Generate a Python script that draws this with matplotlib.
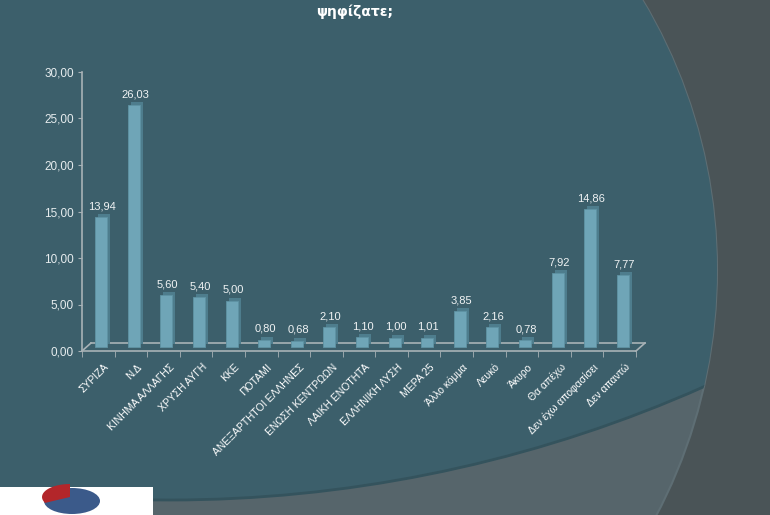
import matplotlib
matplotlib.use("Agg")
import matplotlib.pyplot as plt
import matplotlib.transforms as mtransforms
from matplotlib.patches import Circle, Rectangle, Ellipse, Polygon
import numpy as np

# survey data
categories = ["ΣΥΡΙΖΑ", "Ν.Δ", "ΚΙΝΗΜΑ ΑΛΛΑΓΗΣ", "ΧΡΥΣΗ ΑΥΓΗ", "ΚΚΕ", "ΠΟΤΑΜΙ",
              "ΑΝΕΞΑΡΤΗΤΟΙ ΕΛΛΗΝΕΣ", "ΕΝΩΣΗ ΚΕΝΤΡΩΩΝ", "ΛΑΙΚΗ ΕΝΟΤΗΤΑ",
              "ΕΛΛΗΝΙΚΗ ΛΥΣΗ", "ΜΕΡΑ 25", "Άλλο κόμμα", "Λευκό", "Άκυρο",
              "Θα απέχω", "Δεν έχω αποφασίσει", "Δεν απαντώ"]
values = [13.94, 26.03, 5.60, 5.40, 5.00, 0.80, 0.68, 2.10, 1.10, 1.00, 1.01,
          3.85, 2.16, 0.78, 7.92, 14.86, 7.77]
yticks = [0, 5, 10, 15, 20, 25, 30]
title = "ψηφίζατε;"

W, H = 770, 515
fig = plt.figure(figsize=(W / 100, H / 100), dpi=100, facecolor="#4a5457")

# slide background (pixel coords)
bg = fig.add_axes([0, 0, 1, 1], zorder=-1)
bg.set_xlim(0, W)
bg.set_ylim(H, 0)
bg.axis("off")
outer = Circle((190, 270), 527, facecolor="#56656b", edgecolor="#5e6e74", lw=1.5)
bg.add_patch(outer)
teal = Circle((170, -815), 1315, facecolor="#3c5f6b", edgecolor="#34535d", lw=2)
bg.add_patch(teal)
teal.set_clip_path(outer)

# logo box
bg.add_patch(Rectangle((0, 487), 153, 30, facecolor="white", edgecolor="none"))
bg.add_patch(Ellipse((72, 501), 56, 26, facecolor="#3b5a8a"))
t = np.linspace(np.pi * 0.5, np.pi * 1.15, 20)
red = [(70, 497)] + [(70 + 28 * np.cos(a), 497 - 13 * np.sin(a)) for a in t]
bg.add_patch(Polygon(red, closed=True, facecolor="#b3262a", edgecolor="none"))

fig.text(355 / W, 1 - 12 / H, title, ha="center", va="center", color="white",
         fontsize=10, fontweight="bold",
         family=["Liberation Sans Narrow", "DejaVu Sans Condensed", "DejaVu Sans"])

# chart
x0, x1, yb, yt = 82, 636, 351, 72
ax = fig.add_axes([x0 / W, 1 - yb / H, (x1 - x0) / W, (yb - yt) / H])
ax.set_facecolor("none")
n = len(categories)
ax.set_xlim(0, n)
ax.set_ylim(0, 30)

axis_col = "#a8b2b6"
for s in ["top", "right"]:
    ax.spines[s].set_visible(False)
ax.spines["left"].set_color(axis_col)
ax.spines["bottom"].set_color(axis_col)
ax.spines["left"].set_linewidth(1.2)
ax.spines["bottom"].set_linewidth(1.2)

ax.set_yticks(yticks)
ax.set_yticklabels([f"{v:.2f}".replace(".", ",") for v in yticks],
                   family=["Liberation Sans Narrow", "Liberation Sans"], fontsize=8.5,
                   color="#e6ecee")
ax.tick_params(axis="y", direction="out", length=3, color=axis_col, pad=3)
ax.set_xticks(np.arange(0, n + 1), minor=True)
ax.set_xticks([])
ax.tick_params(axis="x", which="minor", direction="out", length=4, color=axis_col)

# floor (3D depth)
back = mtransforms.offset_copy(ax.transData, fig=fig, x=9, y=8, units="dots")
ax.plot([0, n], [0, 0], color=axis_col, lw=1.2, transform=back, zorder=1, clip_on=False)
for xe in [0, n]:
    p0 = ax.transData.transform((xe, 0))
    p1 = back.transform((xe, 0))
    ax.plot([p0[0], p1[0]], [p0[1], p1[1]], color=axis_col, lw=1.2,
            transform=None, clip_on=False, zorder=1)

# bars with simple extrusion
pos = np.arange(n) + 0.5
side = mtransforms.offset_copy(ax.transData, fig=fig, x=6, y=7, units="dots")
front = mtransforms.offset_copy(ax.transData, fig=fig, x=3, y=4, units="dots")
ax.bar(pos, values, width=0.37, color="#4e7d8d", transform=side, zorder=2, clip_on=False)
ax.bar(pos, values, width=0.37, color="#6fa5b7", edgecolor="#5f93a4", lw=0.6,
       transform=front, zorder=3, clip_on=False)

for p, v, name in zip(pos, values, categories):
    ax.annotate(f"{v:.2f}".replace(".", ","), (p, v), xytext=(3, 7),
                textcoords="offset points", ha="center", va="bottom",
                fontsize=8, color="#f0f3f4", family="Liberation Sans", zorder=4)
    ax.annotate(name, (p, 0), xytext=(4, -8),
                textcoords="offset points", ha="right", va="top", rotation=45,
                rotation_mode="anchor", fontsize=7.5, color="white",
                family="Liberation Sans", annotation_clip=False)

fig.savefig("out.png", dpi=100, facecolor=fig.get_facecolor())
